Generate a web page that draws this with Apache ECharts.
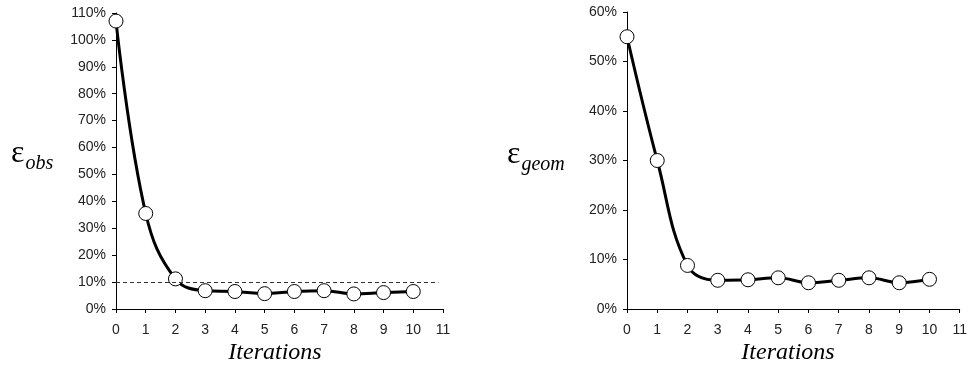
<!DOCTYPE html>
<html>
<head>
<meta charset="utf-8">
<script src="https://cdn.jsdelivr.net/npm/echarts@6/dist/echarts.min.js"></script>
<style>
  html, body { margin: 0; padding: 0; background: #fff; }
  #chart { width: 970px; height: 366px; }
</style>
</head>
<body>
<div id="chart"></div>
<script>
// iterations 0..10
const iterations = [0, 1, 2, 3, 4, 5, 6, 7, 8, 9, 10]
// error values in percent
const epsObs  = [107, 35.5, 11.2, 6.8, 6.5, 5.7, 6.5, 6.8, 5.6, 6.1, 6.5]
const epsGeom = [55, 30, 8.8, 5.8, 5.9, 6.3, 5.3, 5.8, 6.3, 5.3, 6.0]
// dashed reference level on the left chart
const obsThreshold = 10
const obsThresholdEnd = 10.85

const AXIS_COLOR = '#000'
const LABEL_COLOR = '#222'

function pairs(ys) { return iterations.map((x, i) => [x, ys[i]]) }

function xAxis(gridIndex) {
  return {
    gridIndex,
    type: 'value',
    min: 0, max: 11, interval: 1,
    axisLine: { show: true, onZero: false, lineStyle: { color: AXIS_COLOR, width: 1 } },
    axisTick: { show: true, inside: false, length: 4, lineStyle: { color: AXIS_COLOR } },
    axisLabel: { color: LABEL_COLOR, fontFamily: 'Liberation Sans', fontSize: 14, margin: 14 },
    splitLine: { show: false },
  }
}

function yAxis(gridIndex, max) {
  return {
    gridIndex,
    type: 'value',
    min: 0, max, interval: 10,
    axisLine: { show: true, onZero: false, lineStyle: { color: AXIS_COLOR, width: 1 } },
    axisTick: { show: true, inside: false, length: 4, lineStyle: { color: AXIS_COLOR } },
    axisLabel: { color: LABEL_COLOR, fontFamily: 'Liberation Sans', fontSize: 14, margin: 10, formatter: '{value}%' },
    splitLine: { show: false },
  }
}

function lineSeries(idx, ys) {
  return {
    type: 'line',
    xAxisIndex: idx,
    yAxisIndex: idx,
    data: pairs(ys),
    smooth: 0.4,
    symbol: 'circle',
    symbolSize: 14,
    showAllSymbol: true,
    lineStyle: { color: '#000', width: 3 },
    itemStyle: { color: '#fff', borderColor: '#000', borderWidth: 1 },
    z: 3,
  }
}

const serif = 'Liberation Serif, Times New Roman, serif'

const chart = echarts.init(document.getElementById('chart'))
chart.setOption({
  animation: false,
  grid: [
    { left: 116, right: 527, top: 13, bottom: 57 },
    { left: 627, right: 8, top: 12, bottom: 57 },
  ],
  xAxis: [xAxis(0), xAxis(1)],
  yAxis: [yAxis(0, 110), yAxis(1, 60)],
  series: [
    Object.assign(lineSeries(0, epsObs), {
      markLine: {
        silent: true,
        symbol: 'none',
        label: { show: false },
        lineStyle: { color: '#333', type: [4, 3], width: 1 },
        data: [[{ coord: [0, obsThreshold] }, { coord: [obsThresholdEnd, obsThreshold] }]],
      },
    }),
    lineSeries(1, epsGeom),
  ],
  graphic: [
    {
      type: 'text', left: 11, top: 138,
      style: {
        text: '{e|ε}{s|obs}',
        rich: {
          e: { fontFamily: serif, fontSize: 32, fill: '#000', verticalAlign: 'bottom' },
          s: { fontFamily: serif, fontStyle: 'italic', fontSize: 20, fill: '#000', verticalAlign: 'bottom', padding: [0, 0, -4, 1] },
        },
      },
    },
    {
      type: 'text', left: 507, top: 139,
      style: {
        text: '{e|ε}{s|geom}',
        rich: {
          e: { fontFamily: serif, fontSize: 32, fill: '#000', verticalAlign: 'bottom' },
          s: { fontFamily: serif, fontStyle: 'italic', fontSize: 20, fill: '#000', verticalAlign: 'bottom', padding: [0, 0, -4, 1] },
        },
      },
    },
    {
      type: 'text', x: 275, y: 353,
      style: { text: 'Iterations', fontFamily: serif, fontStyle: 'italic', fontSize: 24, fill: '#000', align: 'center', verticalAlign: 'middle' },
    },
    {
      type: 'text', x: 788, y: 353,
      style: { text: 'Iterations', fontFamily: serif, fontStyle: 'italic', fontSize: 24, fill: '#000', align: 'center', verticalAlign: 'middle' },
    },
  ],
})
</script>
</body>
</html>
